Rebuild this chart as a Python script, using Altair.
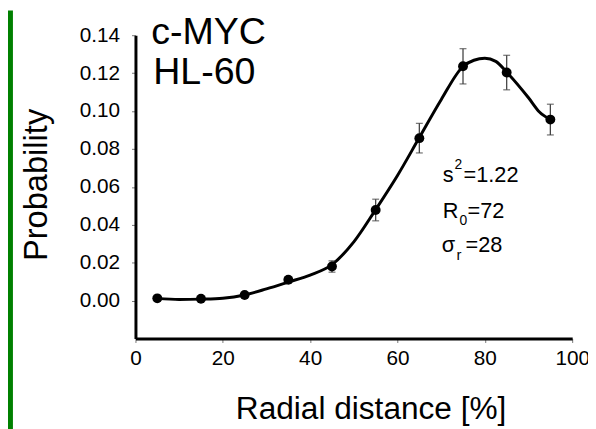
import altair as alt
import pandas as pd

# ---- data ----
radial = [5, 15, 25, 35, 45, 55, 65, 75, 85, 95]
probability = [0.0012, 0.0010, 0.0030, 0.0110, 0.0180, 0.0478, 0.0857, 0.1236, 0.1203, 0.0955]
error = [0.0005, 0.0005, 0.0008, 0.0015, 0.0030, 0.0057, 0.0078, 0.0093, 0.0091, 0.0081]

fit_x = [5, 10, 15, 20, 25, 30, 35, 40, 45, 50, 55, 60, 65, 70, 75, 77.5, 80, 82.5, 85, 90, 92.5, 95]
fit_y = [0.0012, 0.0006, 0.0008, 0.0013, 0.0030, 0.0062, 0.0098, 0.0135, 0.0190, 0.0310,
         0.0480, 0.0660, 0.0860, 0.1060, 0.1235, 0.1268, 0.1278, 0.1262, 0.1205, 0.1070,
         0.0995, 0.0955]

x_ticks = [0, 20, 40, 60, 80, 100]
y_ticks = [0.00, 0.02, 0.04, 0.06, 0.08, 0.10, 0.12, 0.14]

title_lines = ["c-MYC", "HL-60"]
param_texts = ["s", "2", "=1.22", "R", "0", "=72", "\u03c3", "r", "=28"]

FONT = "Liberation Sans"

pts = pd.DataFrame({
    "x": radial,
    "y": probability,
    "lo": [p - e for p, e in zip(probability, error)],
    "hi": [p + e for p, e in zip(probability, error)],
})
fit = pd.DataFrame({"x": fit_x, "y": fit_y})

xscale = alt.Scale(domain=[0, 100], nice=False, zero=False)
yscale = alt.Scale(domain=[-0.02, 0.14], nice=False, zero=False)

xaxis = alt.Axis(values=x_ticks, format="d", title="Radial distance [%]",
                 titleFontSize=32, titleFont=FONT, titleFontWeight="normal",
                 titleX=238, titleY=81, titleBaseline="alphabetic", titleAlign="center",
                 titleAnchor="start",
                 labelFontSize=21, labelFont=FONT, labelColor="black", labelPadding=5,
                 tickSize=4, tickColor="#777777", tickWidth=1,
                 domainColor="black", domainWidth=3, grid=False, labelFlush=False,
                 labelOverlap=False)
yaxis = alt.Axis(values=y_ticks, format=".2f", title="Probability",
                 titleFontSize=33, titleFont=FONT, titleFontWeight="normal",
                 titleX=-90, titleY=151, titleBaseline="alphabetic", titleAlign="center",
                 titleAngle=270, titleAnchor="start",
                 labelFontSize=21, labelFont=FONT, labelColor="black", labelPadding=12,
                 tickSize=4, tickColor="#777777", tickWidth=1,
                 domainColor="black", domainWidth=3, grid=False, labelOverlap=False)

base = alt.Chart(pts)

curve = alt.Chart(fit).mark_line(color="black", strokeWidth=3, interpolate="monotone").encode(
    x=alt.X("x:Q", scale=xscale, axis=xaxis),
    y=alt.Y("y:Q", scale=yscale, axis=yaxis),
)

bars = base.mark_rule(color="#444444", strokeWidth=1.3).encode(
    x="x:Q", y="lo:Q", y2="hi:Q")
cap_lo = base.mark_tick(color="#444444", thickness=1.3, size=7, orient="horizontal").encode(
    x="x:Q", y="lo:Q")
cap_hi = base.mark_tick(color="#444444", thickness=1.3, size=7, orient="horizontal").encode(
    x="x:Q", y="hi:Q")
dots = base.mark_circle(color="black", size=100, opacity=1).encode(x="x:Q", y="y:Q")


def label(text, px, py, size):
    return alt.Chart(pd.DataFrame({"t": [text]})).mark_text(
        align="left", baseline="alphabetic", font=FONT, fontSize=size, color="black"
    ).encode(text="t:N", x=alt.value(px), y=alt.value(py))


texts = [
    label(title_lines[0], 16, 9, 38),
    label(title_lines[1], 18, 49, 38),
    label(param_texts[0], 311, 149, 22),
    label(param_texts[1], 323, 135, 14),
    label(param_texts[2], 332, 149, 22),
    label(param_texts[3], 311, 185, 22),
    label(param_texts[4], 328, 192, 14),
    label(param_texts[5], 336, 185, 22),
    label(param_texts[6], 310, 219, 22),
    label(param_texts[7], 325, 228, 15),
    label(param_texts[8], 334, 219, 22),
]

green = alt.Chart(pd.DataFrame({"k": [0]})).mark_rect(color="#008000").encode(
    x=alt.value(-129), x2=alt.value(-124), y=alt.value(-25), y2=alt.value(400))

chart = alt.layer(curve, bars, cap_lo, cap_hi, dots, *texts, green).properties(
    width=442, height=307,
    padding={"left": 129, "top": 25, "right": 16, "bottom": 89},
    autosize=alt.AutoSizeParams(type="none"),
    background="white",
).configure_view(stroke=None)

chart.save("out.html", embed_options={"renderer": "svg", "actions": False})
